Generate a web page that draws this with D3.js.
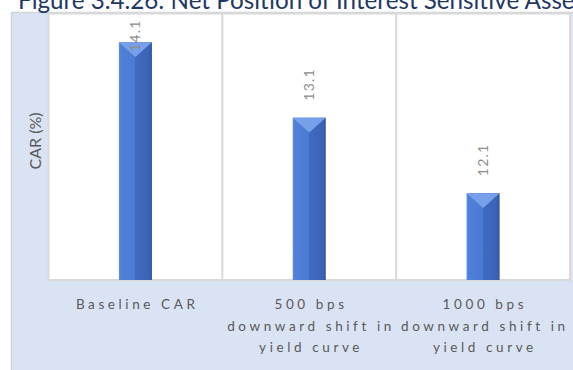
<!DOCTYPE html>
<html>
<head>
<meta charset="utf-8">
<script src="https://cdn.jsdelivr.net/npm/d3@7"></script>
<style>
  html, body { margin: 0; padding: 0; background: #ffffff; overflow: hidden; }
  svg { display: block; }
</style>
</head>
<body>
<svg id="chart" width="573" height="370"></svg>
<script>
// ---- data ----
const categories = ["Baseline CAR", "500 bps downward shift in yield curve", "1000 bps downward shift in yield curve"];
const categoryLines = [
  ["Baseline CAR"],
  ["500 bps", "downward shift in", "yield curve"],
  ["1000 bps", "downward shift in", "yield curve"]
];
const values = [14.1, 13.1, 12.1];
const valueLabels = ["14.1", "13.1", "12.1"];
const yDomain = [10.95, 14.48];
const yAxisTitle = "CAR (%)";
const titleText = "Figure 3.4.26: Net Position of Interest Sensitive Assets and Liabilities";
const titleVisible = "Figure 3.4.26: Net Position of Interest Sensitive Asse";

// ---- layout ----
const W = 573, H = 370;
const plot = { left: 48.5, right: 570, top: 13.5, bottom: 280 };
const svg = d3.select("#chart");
const defs = svg.append("defs");

const grad = defs.append("linearGradient").attr("id", "barGrad")
  .attr("x1", "0%").attr("x2", "100%").attr("y1", "0%").attr("y2", "0%");
[["0%", "#5f8fe2"], ["6%", "#5080d8"], ["50%", "#4a7ad2"], ["50%", "#3f6bc2"], ["92%", "#3a63b6"], ["100%", "#2e549f"]]
  .forEach(([o, c]) => grad.append("stop").attr("offset", o).attr("stop-color", c));

// chart area background
svg.append("rect")
  .attr("x", 11.5).attr("y", 12.5).attr("width", W).attr("height", H)
  .attr("fill", "#dae3f3").attr("stroke", "#d0d4da").attr("stroke-width", 1.5);

// title
const title = svg.append("text")
  .attr("x", 18).attr("y", 9)
  .attr("fill", "#1f3864")
  .attr("font-family", "Lato, 'Open Sans', sans-serif")
  .attr("font-size", 22)
  .text(titleVisible);
const tl = title.node().getComputedTextLength();
title.attr("font-size", 22 * 557 / tl).text(titleText);

// scales
const x = d3.scaleBand().domain(categories).range([plot.left, plot.right]).paddingInner(0).paddingOuter(0);
const y = d3.scaleLinear().domain(yDomain).range([plot.bottom, plot.top]);

// plot area
svg.append("rect")
  .attr("x", plot.left).attr("y", plot.top)
  .attr("width", plot.right - plot.left).attr("height", plot.bottom - plot.top)
  .attr("fill", "#ffffff").attr("stroke", "#d9d9d9").attr("stroke-width", 2);

// vertical category separators
svg.append("g").selectAll("line")
  .data(categories.slice(1))
  .join("line")
  .attr("x1", d => x(d)).attr("x2", d => x(d))
  .attr("y1", plot.top).attr("y2", plot.bottom)
  .attr("stroke", "#d9d9d9").attr("stroke-width", 2);

// bars
const barW = x.bandwidth() * 0.19;
const bars = svg.append("g").selectAll("g")
  .data(values.map((v, i) => ({ v, c: categories[i], label: valueLabels[i] })))
  .join("g");

bars.append("rect")
  .attr("x", d => x(d.c) + x.bandwidth() / 2 - barW / 2)
  .attr("y", d => y(d.v))
  .attr("width", barW)
  .attr("height", d => y(yDomain[0]) - y(d.v))
  .attr("fill", "url(#barGrad)");

bars.append("polygon")
  .attr("points", d => {
    const cx = x(d.c) + x.bandwidth() / 2, t = y(d.v);
    return [[cx - barW / 2, t], [cx + barW / 2, t], [cx, t + barW * 0.45]].map(p => p.join(",")).join(" ");
  })
  .attr("fill", "#76a0ea");

// value labels (rotated)
bars.each(function (d) {
  const g = d3.select(this);
  const cx = x(d.c) + x.bandwidth() / 2;
  const t = g.append("text")
    .attr("font-family", "Lato, 'Open Sans', sans-serif")
    .attr("font-size", 14)
    .attr("letter-spacing", 1.2)
    .attr("fill", "#8c8c8c")
    .text(d.label);
  const len = t.node().getComputedTextLength();
  const bottom = Math.max(y(d.v) - 17, plot.top + 6 + len);
  t.attr("transform", `translate(${cx + 5},${bottom}) rotate(-90)`);
});

// category axis labels
const catG = svg.append("g").selectAll("text")
  .data(categories)
  .join("text")
  .attr("font-family", "Lato, 'Open Sans', sans-serif")
  .attr("font-size", 13.5)
  .attr("letter-spacing", 3.6)
  .attr("fill", "#595959")
  .attr("text-anchor", "middle");
catG.each(function (d, i) {
  const t = d3.select(this);
  const cx = x(d) + x.bandwidth() / 2;
  categoryLines[i].forEach((line, j) => {
    t.append("tspan").attr("x", cx + 1.8).attr("y", 309 + j * 21.5).text(line);
  });
});

// y-axis title
svg.append("text")
  .attr("transform", `translate(40.5,141) rotate(-90)`)
  .attr("text-anchor", "middle")
  .attr("font-family", "Lato, 'Open Sans', sans-serif")
  .attr("font-size", 16)
  .attr("fill", "#595959")
  .text(yAxisTitle);
</script>
</body>
</html>
